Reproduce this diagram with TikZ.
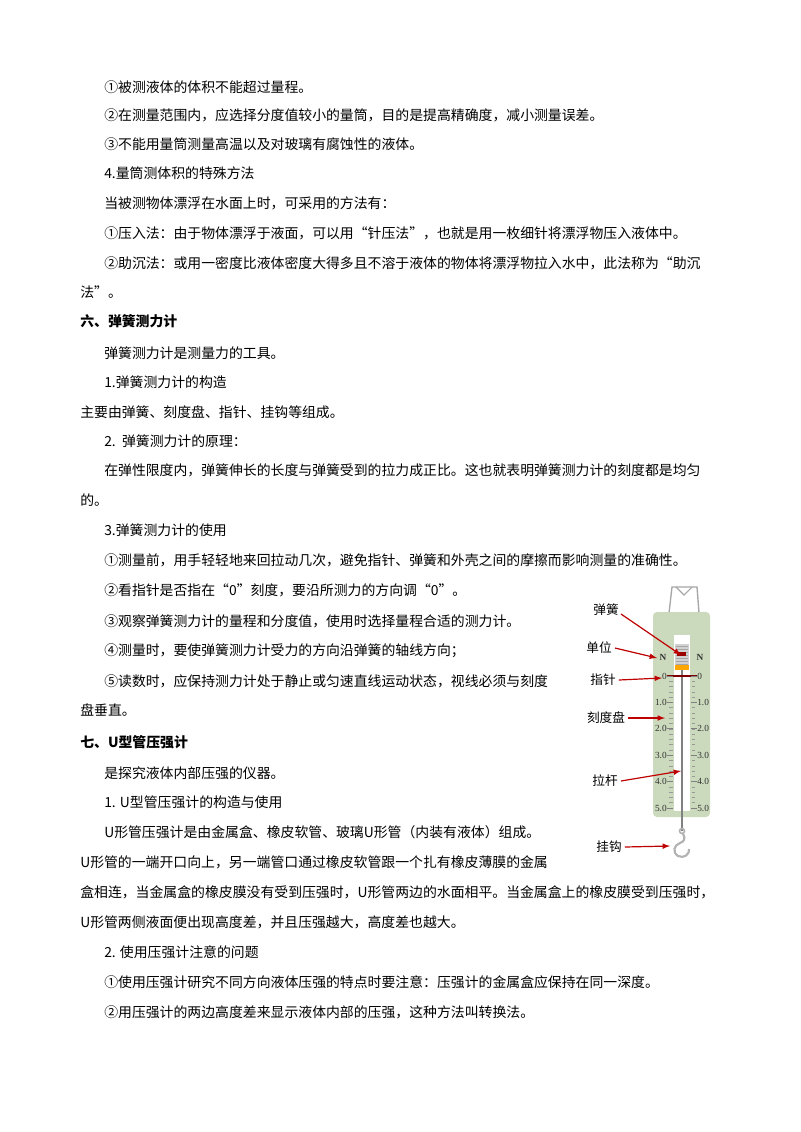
\documentclass[tikz,border=0pt]{standalone}
\usepackage{fontspec}
\setmainfont{Noto Sans CJK SC}
\newfontfamily\serifnum{Liberation Serif}
\begin{document}
\begin{tikzpicture}[x=0.75pt,y=-0.75pt,
  ln/.style={anchor=west,inner sep=0pt,font=\fontsize{10.4pt}{12pt}\selectfont},
  hd/.style={ln,font=\fontsize{10.4pt}{12pt}\selectfont\bfseries},
  lab/.style={anchor=center,inner sep=0pt,font=\fontsize{9.5pt}{11pt}\selectfont},
  num/.style={inner sep=0pt,font=\serifnum\fontsize{7pt}{8pt}\selectfont,text=black!80},
  redarr/.style={draw=red!75!black,line width=0.9pt,-{latex}}]
\useasboundingbox (0,0) rectangle (800,1132);
\fill[white] (0,0) rectangle (800,1132);
\node[ln] (t1) at (104,87) {①被测液体的体积不能超过量程。};
\node[ln] (t2) at (104,115) {②在测量范围内，应选择分度值较小的量筒，目的是提高精确度，减小测量误差。};
\node[ln] (t3) at (104,144) {③不能用量筒测量高温以及对玻璃有腐蚀性的液体。};
\node[ln] (t4) at (104,173) {4.量筒测体积的特殊方法};
\node[ln] (t5) at (104,203) {当被测物体漂浮在水面上时，可采用的方法有：};
\node[ln] (t6) at (104,233) {①压入法：由于物体漂浮于液面，可以用“针压法”，也就是用一枚细针将漂浮物压入液体中。};
\node[ln] (t7) at (104,263) {②助沉法：或用一密度比液体密度大得多且不溶于液体的物体将漂浮物拉入水中，此法称为“助沉};
\node[ln] (t8) at (80,292) {法”。};
\node[hd] (t9) at (80,321) {六、弹簧测力计};
\node[ln] (t10) at (104,353) {弹簧测力计是测量力的工具。};
\node[ln] (t11) at (104,382) {1.弹簧测力计的构造};
\node[ln] (t12) at (80,412) {主要由弹簧、刻度盘、指针、挂钩等组成。};
\node[ln] (t13) at (104,441) {2.\ \ 弹簧测力计的原理：};
\node[ln] (t14) at (104,470) {在弹性限度内，弹簧伸长的长度与弹簧受到的拉力成正比。这也就表明弹簧测力计的刻度都是均匀};
\node[ln] (t15) at (80,500) {的。};
\node[ln] (t16) at (104,530) {3.弹簧测力计的使用};
\node[ln] (t17) at (104,560) {①测量前，用手轻轻地来回拉动几次，避免指针、弹簧和外壳之间的摩擦而影响测量的准确性。};
\node[ln] (t18) at (104,590) {②看指针是否指在“0”刻度，要沿所测力的方向调“0”。};
\node[ln] (t19) at (104,621) {③观察弹簧测力计的量程和分度值，使用时选择量程合适的测力计。};
\node[ln] (t20) at (104,651) {④测量时，要使弹簧测力计受力的方向沿弹簧的轴线方向；};
\node[ln] (t21) at (104,681) {⑤读数时，应保持测力计处于静止或匀速直线运动状态，视线必须与刻度};
\node[ln] (t22) at (80,710) {盘垂直。};
\node[hd] (t23) at (80,742) {七、U型管压强计};
\node[ln] (t24) at (104,773) {是探究液体内部压强的仪器。};
\node[ln] (t25) at (104,802) {1. U型管压强计的构造与使用};
\node[ln] (t26) at (104,832) {U形管压强计是由金属盒、橡皮软管、玻璃U形管（内装有液体）组成。};
\node[ln] (t27) at (80,862) {U形管的一端开口向上，另一端管口通过橡皮软管跟一个扎有橡皮薄膜的金属};
\node[ln] (t28) at (80,892) {盒相连，当金属盒的橡皮膜没有受到压强时，U形管两边的水面相平。当金属盒上的橡皮膜受到压强时，};
\node[ln] (t29) at (80,922) {U形管两侧液面便出现高度差，并且压强越大，高度差也越大。};
\node[ln] (t30) at (104,952) {2. 使用压强计注意的问题};
\node[ln] (t31) at (104,982) {①使用压强计研究不同方向液体压强的特点时要注意：压强计的金属盒应保持在同一深度。};
\node[ln] (t32) at (104,1012) {②用压强计的两边高度差来显示液体内部的压强，这种方法叫转换法。};
% spring scale
\draw[gray!70,line width=1pt] (669,613) -- (672,587) -- (697,587) -- (699,613);
\draw[gray!70,line width=0.8pt] (676,587) -- (684,595) -- (692,587);
\fill[rounded corners=3pt,fill={rgb,255:red,203;green,217;blue,188}] (653,612) rectangle (710,817);
\fill[white] (674,635) rectangle (690,811);
\fill[gray!35] (675,644) rectangle (689,666);
\foreach \k in {0,...,6} \draw[gray!70,line width=0.5pt] (676,646+3*\k) -- (688,646+3*\k);
\fill[red!60!black] (677,652) rectangle (686,656);
\fill[orange!70!yellow] (675,665) rectangle (689,670);
\draw[gray,line width=0.8pt] (682,670) -- (682,831);
\draw[red!50!black,line width=1.2pt] (667,676) -- (697,676);
\node[num,font=\serifnum\bfseries\fontsize{7pt}{8pt}\selectfont] (nl) at (663,657) {N};
\node[num,font=\serifnum\bfseries\fontsize{7pt}{8pt}\selectfont] (nr) at (700,657) {N};
\foreach \i in {0,...,25}{
  \pgfmathsetmacro\yy{676+5.28*\i}
  \draw[gray!80,line width=0.4pt] (669,\yy) -- (672.5,\yy);
  \draw[gray!80,line width=0.4pt] (691.5,\yy) -- (695,\yy);}
\foreach \v/\t in {0/0,1/1.0,2/2.0,3/3.0,4/4.0,5/5.0}{
  \pgfmathsetmacro\yy{676+26.4*\v}
  \draw[gray,line width=0.5pt] (667,\yy) -- (673,\yy);
  \draw[gray,line width=0.5pt] (691,\yy) -- (697,\yy);
  \node[num,anchor=east] at (667,\yy) {\t};
  \node[num,anchor=west] at (697,\yy) {\t};}
\draw[gray!60,line width=1.2pt] (682,831) circle (2.5);
\draw[gray!60,line width=1.6pt] (683,834) .. controls (686,838) and (684,842) .. (680,843) .. controls (674,845) and (672,852) .. (678,856) .. controls (684,859) and (690,854) .. (689,849);
% labels
\node[lab] (l1) at (606,610) {弹簧};
\node[lab] (l2) at (599,648) {单位};
\node[lab] (l3) at (603,680) {指针};
\node[lab] (l4) at (606,718) {刻度盘};
\node[lab] (l5) at (605,781) {拉杆};
\node[lab] (l6) at (609,847) {挂钩};
\coordinate (a1) at (681,655);
\coordinate (a2) at (657,658);
\coordinate (a3) at (662,678);
\coordinate (a4) at (665,718);
\coordinate (a5) at (681,771);
\coordinate (a6) at (670,846);
\draw[redarr] (621,614) -- (a1);
\draw[redarr] (l2.east) ++(3,0) -- (a2);
\draw[redarr] (l3.east) ++(3,0) -- (a3);
\draw[redarr] (l4.east) ++(3,0) -- (a4);
\draw[redarr] (l5.east) ++(3,0) -- (a5);
\draw[redarr] (l6.east) ++(3,0) -- (a6);
\end{tikzpicture}
\end{document}
